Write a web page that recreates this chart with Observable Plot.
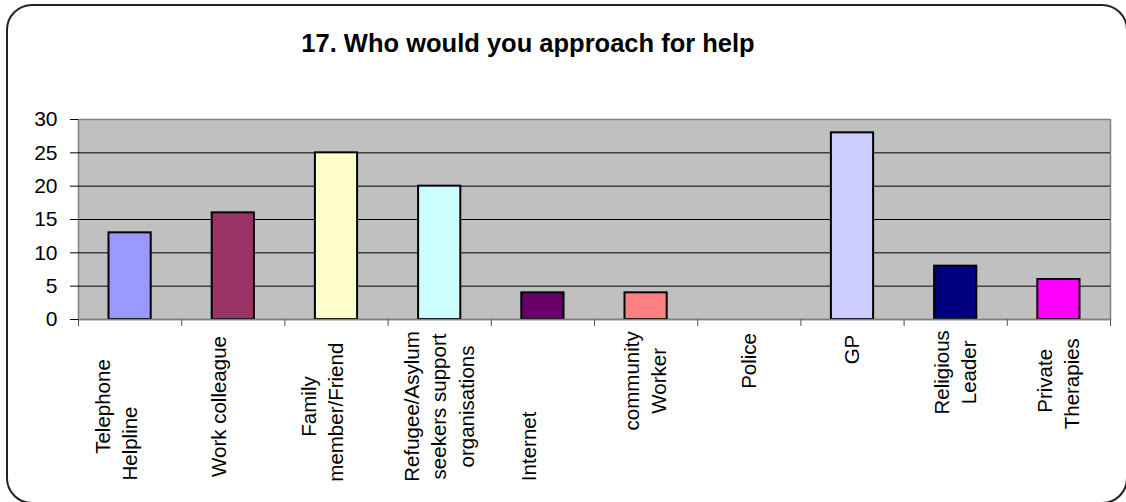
<!DOCTYPE html>
<html>
<head>
<meta charset="utf-8">
<script src="https://cdn.jsdelivr.net/npm/d3@7"></script>
<script src="https://cdn.jsdelivr.net/npm/@observablehq/plot@0.6"></script>
<style>
  html, body { margin: 0; padding: 0; background: white; overflow: hidden; }
  #wrap { position: relative; width: 1126px; height: 502px; overflow: hidden; }
  #frame { position: absolute; left: 6px; top: 4px; width: 1122px; height: 500px; border: 2px solid #222; border-radius: 26px; box-sizing: border-box; pointer-events: none; z-index: 3; }
  #title { position: absolute; left: 0; top: 30px; width: 1056px; text-align: center; font: bold 25.5px/26px "Liberation Sans", Arial, sans-serif; color: #000; z-index: 2; }
  #chart { position: absolute; left: 0; top: 0; }
</style>
</head>
<body>
<div id="wrap">
  <div id="chart"></div>
  <div id="title">17. Who would you approach for help</div>
  <div id="frame"></div>
</div>
<script>
const categories = ["Telephone Helpline", "Work colleague", "Family member/Friend", "Refugee/Asylum seekers support organisations", "Internet", "community Worker", "Police", "GP", "Religious Leader", "Private Therapies"];
const values = [13, 16, 25, 20, 4, 4, 0, 28, 8, 6];
const colors = ["#9999FF", "#993366", "#FFFFCC", "#CCFFFF", "#660066", "#FF8080", "#0066CC", "#CCCCFF", "#000080", "#FF00FF"];
const yTicks = [0, 5, 10, 15, 20, 25, 30];
const S = "\u00A0";
const tickLabels = [
  ["Telephone", "Helpline" + S.repeat(13), S],
  ["Work colleague", S],
  ["Family", "member/Friend" + S.repeat(2), S],
  ["Refugee/Asylum", "seekers support", "organisations"],
  ["Internet" + S.repeat(14), S],
  [S.repeat(9) + "community", S.repeat(9) + "Worker"],
  [S.repeat(16) + "Police"],
  [S.repeat(20) + "GP"],
  [S.repeat(12) + "Religious", S.repeat(12) + "Leader"],
  [S.repeat(9) + "Private", S.repeat(8) + "Therapies"]
];

const data = categories.map((c, i) => ({i, category: c, value: values[i], color: colors[i], label: tickLabels[i].join("\n")}));

const chart = Plot.plot({
  width: 1126,
  height: 502,
  marginLeft: 78,
  marginRight: 16,
  marginTop: 119,
  marginBottom: 183,
  style: {fontFamily: "'Liberation Sans', Arial, sans-serif", fontSize: "20px", color: "black", background: "transparent"},
  x: {type: "linear", domain: [0, categories.length], axis: null},
  y: {domain: [0, 30], axis: null},
  color: {type: "identity"},
  marks: [
    Plot.frame({fill: "#C0C0C0", stroke: "#808080", strokeWidth: 1.5}),
    Plot.ruleY(yTicks.filter(d => d > 0 && d < 30), {stroke: "black", strokeWidth: 1}),
    Plot.rectY(data.filter(d => d.value > 0), {x1: "i", x2: d => d.i + 1, y1: 0, y2: "value", fill: "color", stroke: "black", strokeWidth: 2, insetLeft: 30.5, insetRight: 30.5}),
    Plot.ruleY([0], {stroke: "#808080", strokeWidth: 1.5}),
    Plot.axisY({ticks: yTicks, tickSize: 8, tickPadding: 13, fontSize: 21, label: null, stroke: "black"}),
    Plot.axisX({ticks: d3.range(categories.length + 1), tickSize: 7, tickFormat: () => "", label: null, stroke: "#555"}),
    Plot.text(data, {x: d => d.i + 0.5, text: "label", frameAnchor: "bottom", dy: 87, dx: -2, rotate: -90, lineHeight: 1.33, fontSize: 20.5, textAnchor: "middle", lineAnchor: "middle", fill: "black"})
  ]
});
document.getElementById("chart").appendChild(chart);
</script>
</body>
</html>
